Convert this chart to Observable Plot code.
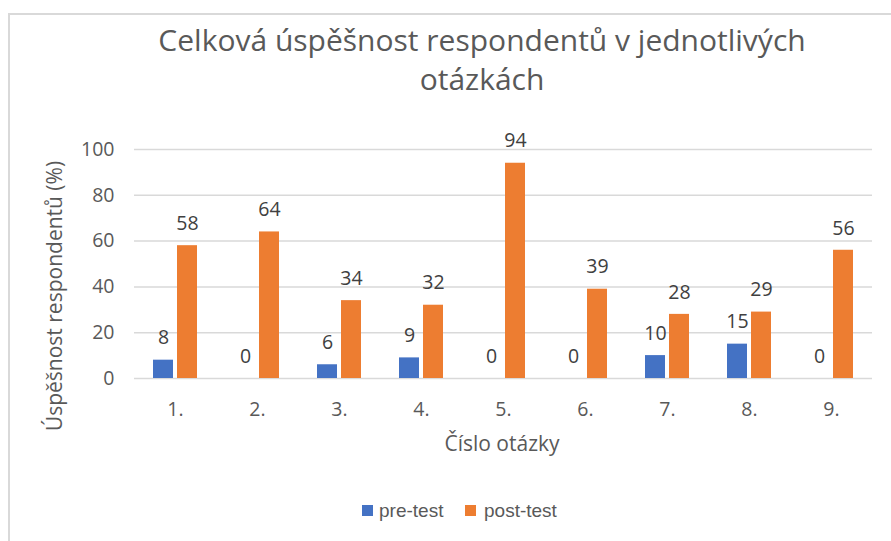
<!DOCTYPE html>
<html><head><meta charset="utf-8">
<script src="https://cdn.jsdelivr.net/npm/d3@7"></script>
<script src="https://cdn.jsdelivr.net/npm/@observablehq/plot@0.6"></script>
<style>
html,body{margin:0;padding:0;background:#fff;}
body{width:891px;height:541px;overflow:hidden;position:relative;font-family:"Open Sans",sans-serif;}
#frame{position:absolute;left:8px;top:13px;width:950px;height:600px;border-top:2px solid #d9d9d9;border-left:2px solid #d9d9d9;box-sizing:border-box;}
#title{position:absolute;left:0;top:20px;width:964px;text-align:center;font-size:30px;line-height:39px;color:#595959;}
#chart{position:absolute;left:0;top:120px;}
#ylabel{position:absolute;left:54px;top:296px;transform:translate(-50%,-50%) rotate(-90deg);white-space:nowrap;font-size:21px;color:#595959;}
#xlabel{position:absolute;left:502px;top:443px;transform:translate(-50%,-50%);white-space:nowrap;font-size:21px;color:#595959;}
.sw{position:absolute;width:11px;height:11px;top:505px;}
.lt{position:absolute;top:498px;font-family:"Liberation Sans",Arial,sans-serif;font-size:19px;line-height:26px;color:#595959;}
</style>
</head><body>
<div id="frame"></div>
<div id="title">Celková úspěšnost respondentů v jednotlivých<br>otázkách</div>
<div id="chart"></div>
<div id="ylabel">Úspěšnost respondentů (%)</div>
<div id="xlabel">Číslo otázky</div>
<div id="legend"></div>
<script>
const questions = ["1.","2.","3.","4.","5.","6.","7.","8.","9."];
const series = ["pre-test","post-test"];
const preTest = [8,0,6,9,0,0,10,15,0];
const postTest = [58,64,34,32,94,39,28,29,56];
const yTicks = [0,20,40,60,80,100];
const colors = ["#4472C4","#ED7D31"];

const data = [];
questions.forEach((q,i)=>{
  data.push({q, series: series[0], value: preTest[i]});
  data.push({q, series: series[1], value: postTest[i]});
});

const plot = Plot.plot({
  width: 891,
  height: 340,
  marginTop: 29,
  marginBottom: 82,
  marginLeft: 133,
  marginRight: 19,
  style: {fontFamily: "Open Sans", fontSize: "19px", color: "#595959", background: "transparent"},
  fx: {domain: questions, padding: 0, label: null},
  x: {domain: series, paddingInner: 0.18, paddingOuter: 0.78, axis: null},
  y: {domain: [0,100], axis: null},
  color: {domain: series, range: colors},
  marks: [
    Plot.gridY(yTicks, {stroke: "#d9d9d9", strokeOpacity: 1, strokeWidth: 1.5}),
    Plot.axisY(yTicks, {tickSize: 0, tickPadding: 20, fontSize: 19.5, fill: "#595959", label: null}),
    Plot.axisFx({anchor: "bottom", tickSize: 0, tickPadding: 24, fontSize: 19.5, fill: "#595959", label: null}),
    Plot.barY(data, {fx: "q", x: "series", y: "value", fill: "series"}),
    Plot.text(data, {fx: "q", x: "series", y: "value", text: d => String(d.value), dy: -22,
      fill: "#404040", fontSize: 19.5, lineAnchor: "middle"})
  ]
});
document.getElementById("chart").appendChild(plot);

const legend = document.getElementById("legend");
const swX = [362, 465], txX = [379, 484];
series.forEach((s,i)=>{
  const sw = document.createElement("div");
  sw.className = "sw"; sw.style.left = swX[i]+"px"; sw.style.background = colors[i];
  legend.appendChild(sw);
  const t = document.createElement("div");
  t.className = "lt"; t.style.left = txX[i]+"px"; t.textContent = s;
  legend.appendChild(t);
});
</script>
</body></html>
